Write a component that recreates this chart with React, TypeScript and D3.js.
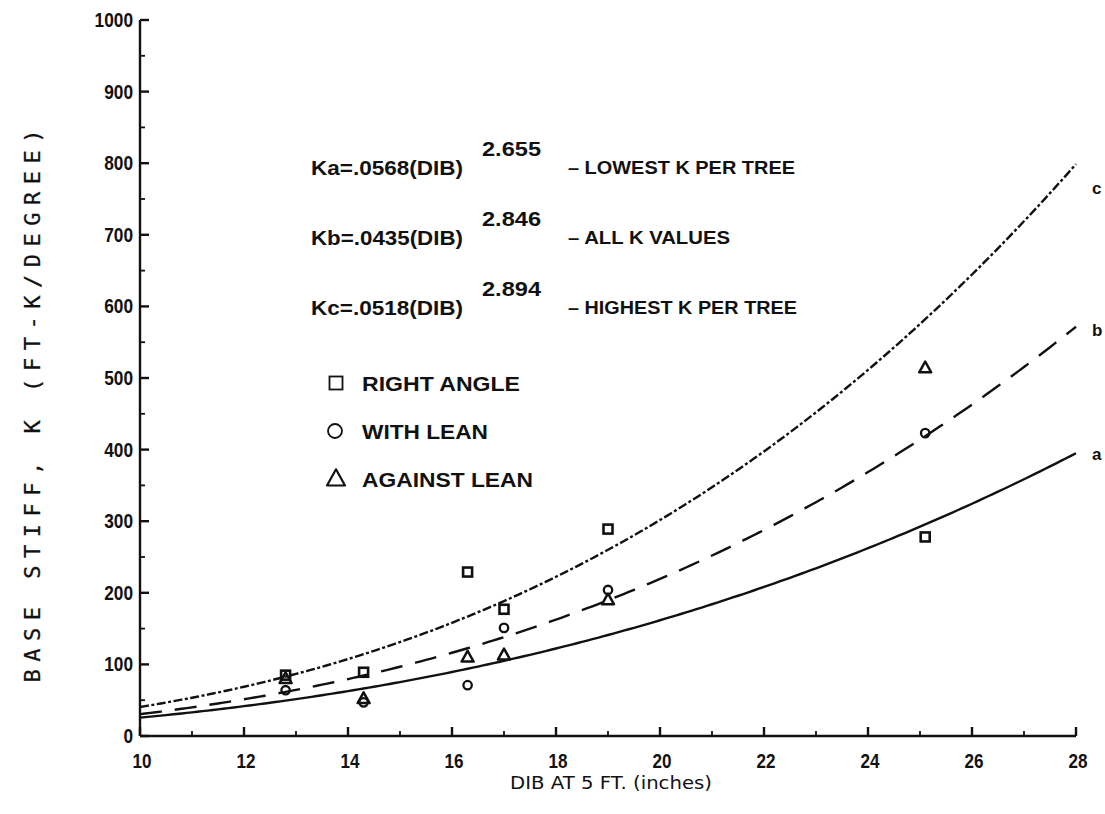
import React from "react";
import * as d3 from "d3";

// Tree diameters (inches) at which base stiffness was measured
const dibValues = [12.8, 14.3, 16.3, 17.0, 19.0, 25.1];
// Measured base stiffness K (ft-k/degree) by pull direction
const rightAngle = [85, 89, 229, 177, 289, 278];
const withLean = [64, 47, 71, 151, 204, 423];
const againstLean = [80, 52, 110, 113, 190, 514];

// Fitted power curves K = coef * DIB^expo
const fitNames = ["a", "b", "c"];
const fitCoefText = [".0568", ".0435", ".0518"];
const fitCoef = [0.0568, 0.0435, 0.0518];
const fitExpo = [2.655, 2.846, 2.894];
const fitExpoText = ["2.655", "2.846", "2.894"];
const fitNotes = ["– LOWEST K PER TREE", "– ALL K VALUES", "– HIGHEST K PER TREE"];
const fitNoteWidths = [227, 162, 229];
const fitDash = [null, "22 13", "9 2.5 3 2.5"];

const xTicks = [10, 12, 14, 16, 18, 20, 22, 24, 26, 28];
const yTicks = [0, 100, 200, 300, 400, 500, 600, 700, 800, 900, 1000];

const legendLabels = ["RIGHT ANGLE", "WITH LEAN", "AGAINST LEAN"];
const legendWidths = [158, 126, 171];

const W = 1105;
const H = 814;

const x = d3.scaleLinear().domain([10, 28]).range([140, 1076]);
const y = d3.scaleLinear().domain([0, 1000]).range([736, 20]);

const INK = "#111";
const FONT = "'Liberation Sans', Arial, sans-serif";
const MONO = "'DejaVu Sans Mono', monospace";

function Square({ cx, cy, s, sw }: { cx: number; cy: number; s: number; sw: number }) {
  return <rect x={cx - s / 2} y={cy - s / 2} width={s} height={s} fill="none" stroke={INK} strokeWidth={sw} />;
}
function Circle({ cx, cy, r, sw }: { cx: number; cy: number; r: number; sw: number }) {
  return <circle cx={cx} cy={cy} r={r} fill="none" stroke={INK} strokeWidth={sw} />;
}
function Triangle({ cx, cy, s, sw }: { cx: number; cy: number; s: number; sw: number }) {
  const h = s * 0.9;
  const p = `M${cx},${cy - h * 0.6} L${cx + s / 2},${cy + h * 0.4} L${cx - s / 2},${cy + h * 0.4} Z`;
  return <path d={p} fill="none" stroke={INK} strokeWidth={sw} strokeLinejoin="round" />;
}

export default function App() {
  const line = d3.line<number>().x((d) => x(d));
  const grid = d3.range(10, 28.0001, 0.1);

  const minorX = d3.range(11, 28, 2);
  const minorY = d3.range(50, 1000, 100);

  const eqRows = [167, 237, 307];
  const legendRows = [383, 431, 479];
  const labelY = [454, 330, 188];

  return (
    <svg width={W} height={H} style={{ position: "absolute", left: 0, top: 0, background: "#fff" }}>
      <rect width={W} height={H} fill="#fff" />

      {/* axes */}
      <g stroke={INK} strokeWidth={2.4} fill="none">
        <line x1={x(10)} x2={x(10)} y1={y(1000)} y2={y(0)} />
        <line x1={x(10)} x2={x(28)} y1={y(0)} y2={y(0)} />
        {yTicks.map((t) => (
          <line key={"yt" + t} x1={x(10)} x2={x(10) + 9} y1={y(t)} y2={y(t)} />
        ))}
        {minorY.map((t) => (
          <line key={"ym" + t} x1={x(10)} x2={x(10) + 5} y1={y(t)} y2={y(t)} strokeWidth={1.8} />
        ))}
        {xTicks.map((t) => (
          <line key={"xt" + t} x1={x(t)} x2={x(t)} y1={y(0)} y2={y(0) - 9} />
        ))}
        {minorX.map((t) => (
          <line key={"xm" + t} x1={x(t)} x2={x(t)} y1={y(0)} y2={y(0) - 5} strokeWidth={1.8} />
        ))}
      </g>

      {/* tick labels */}
      {yTicks.map((t) => (
        <text
          key={"yl" + t}
          x={x(10) - 7}
          y={y(t) + 7}
          textAnchor="end"
          fontFamily={FONT}
          fontWeight="bold"
          fontSize={19.5}
          fill={INK}
          textLength={String(t).length * 9.6}
          lengthAdjust="spacingAndGlyphs"
        >
          {t}
        </text>
      ))}
      {xTicks.map((t) => (
        <text
          key={"xl" + t}
          x={x(t) + 2}
          y={768}
          textAnchor="middle"
          fontFamily={FONT}
          fontWeight="bold"
          fontSize={19.5}
          fill={INK}
          textLength={19}
          lengthAdjust="spacingAndGlyphs"
        >
          {t}
        </text>
      ))}

      {/* axis titles */}
      <text
        x={510}
        y={789}
        fontFamily="'DejaVu Sans', sans-serif"
        fontSize={18}
        fill={INK}
        textLength={202}
        lengthAdjust="spacingAndGlyphs"
      >
        DIB AT 5 FT.  (inches)
      </text>
      <text
        transform={`translate(40,406) rotate(-90)`}
        textAnchor="middle"
        fontFamily={MONO}
        fontSize={22}
        fill={INK}
        stroke={INK}
        strokeWidth={0.3}
        textLength={553}
        lengthAdjust="spacing"
      >
        BASE STIFF, K (FT-K/DEGREE)
      </text>

      {/* fitted curves */}
      <g fill="none" stroke={INK} strokeWidth={2.4}>
        {fitCoef.map((c, i) => (
          <path
            key={"fit" + i}
            d={line.y((d) => y(c * Math.pow(d, fitExpo[i])))(grid) || ""}
            strokeDasharray={fitDash[i] || undefined}
          />
        ))}
      </g>
      {fitNames.map((n, i) => (
        <text key={"lab" + n} x={1092} y={labelY[i] + 6} fontFamily={FONT} fontWeight="bold" fontSize={17} fill={INK}>
          {n}
        </text>
      ))}

      {/* equations, rows top-to-bottom: a, b, c */}
      {fitNames.map((n, i) => {
        const cy = eqRows[i];
        return (
          <g key={"eq" + n} fill={INK} fontFamily={FONT} fontWeight="bold">
            <text x={311} y={cy + 7.5} fontSize={21} textLength={152} lengthAdjust="spacingAndGlyphs">
              {`K${n}=${fitCoefText[i]}(DIB)`}
            </text>
            <text x={482} y={cy - 11} fontSize={20} textLength={59} lengthAdjust="spacingAndGlyphs">
              {fitExpoText[i]}
            </text>
            <text x={568} y={cy + 6.5} fontSize={18} textLength={fitNoteWidths[i]} lengthAdjust="spacingAndGlyphs">
              {fitNotes[i]}
            </text>
          </g>
        );
      })}

      {/* legend */}
      <g>
        <Square cx={336} cy={legendRows[0]} s={13} sw={1.8} />
        <Circle cx={335} cy={legendRows[1]} r={7} sw={1.8} />
        <Triangle cx={336} cy={legendRows[2]} s={18} sw={2.2} />
        {legendLabels.map((l, i) => (
          <text
            key={"leg" + i}
            x={362}
            y={legendRows[i] + 7.5}
            fontFamily={FONT}
            fontWeight="bold"
            fontSize={20}
            fill={INK}
            textLength={legendWidths[i]}
            lengthAdjust="spacingAndGlyphs"
          >
            {l}
          </text>
        ))}
      </g>

      {/* measured points */}
      <g>
        {dibValues.map((d, i) => (
          <Square key={"ra" + i} cx={x(d)} cy={y(rightAngle[i])} s={9} sw={2.6} />
        ))}
        {dibValues.map((d, i) => (
          <Circle key={"wl" + i} cx={x(d)} cy={y(withLean[i])} r={4.2} sw={2.3} />
        ))}
        {dibValues.map((d, i) => (
          <Triangle key={"al" + i} cx={x(d)} cy={y(againstLean[i])} s={12} sw={2.5} />
        ))}
      </g>
    </svg>
  );
}
